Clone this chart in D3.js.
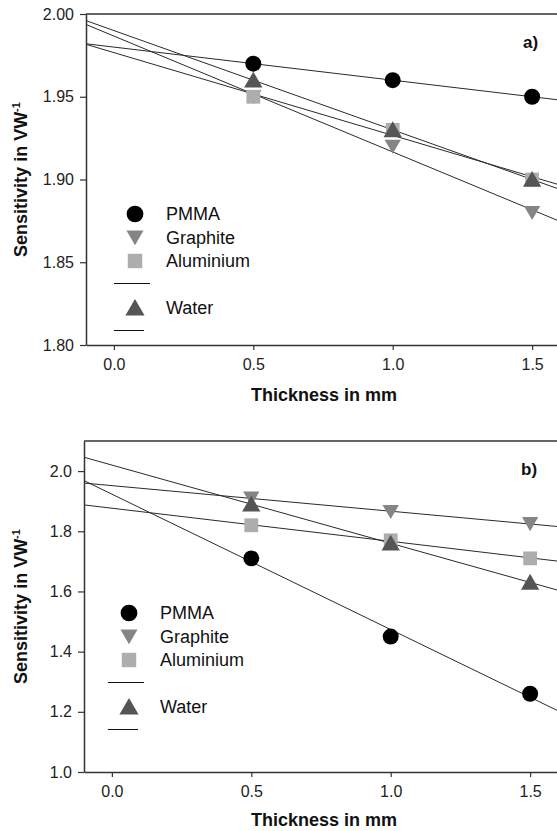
<!DOCTYPE html>
<html><head><meta charset="utf-8">
<script src="https://cdn.jsdelivr.net/npm/d3@7"></script>
<style>
html,body{margin:0;padding:0;background:#fff;}
svg{display:block;font-family:"Liberation Sans",Arial,sans-serif;}
</style></head>
<body>
<svg id="chart" width="557" height="831"></svg>
<script>
// ---- Data ----
const thickness = [0.5, 1.0, 1.5];
const seriesNames = ["PMMA", "Graphite", "Aluminium", "Water"];

// Panel a
const aPMMA      = [1.97, 1.96, 1.95];
const aGraphite  = [1.95, 1.92, 1.88];
const aAluminium = [1.95, 1.93, 1.90];
const aWater     = [1.96, 1.93, 1.90];
const aYTicks = [1.80, 1.85, 1.90, 1.95, 2.00];

// Panel b
const bPMMA      = [1.71, 1.45, 1.26];
const bGraphite  = [1.91, 1.865, 1.825];
const bAluminium = [1.82, 1.77, 1.71];
const bWater     = [1.89, 1.76, 1.63];
const bYTicks = [1.0, 1.2, 1.4, 1.6, 1.8, 2.0];

const xTicks = [0.0, 0.5, 1.0, 1.5];

const svg = d3.select("#chart");
const FONT = "Liberation Sans, Arial, sans-serif";

const styles = {
  PMMA:      {shape: d3.symbolCircle,   fill: "#000000", size: 200, rot: 0},
  Graphite:  {shape: d3.symbolTriangle, fill: "#858585", size: 115, rot: 180},
  Aluminium: {shape: d3.symbolSquare,   fill: "#adadad", size: 190, rot: 0},
  Water:     {shape: d3.symbolTriangle, fill: "#555555", size: 145, rot: 0}
};

function linfit(xs, ys) {
  const mx = d3.mean(xs), my = d3.mean(ys);
  let num = 0, den = 0;
  xs.forEach((x, i) => { num += (x - mx) * (ys[i] - my); den += (x - mx) * (x - mx); });
  const m = num / den;
  return {m: m, b: my - m * mx};
}

function triOffset(st) {
  if (st.shape !== d3.symbolTriangle) return 0;
  return (st.rot === 180 ? -1 : 1) * 2;
}

function drawPanel(opt) {
  const g = svg.append("g");
  const x = d3.scaleLinear().domain([-0.1, 1.6]).range([opt.left, opt.left + 474]);
  const y = d3.scaleLinear().domain(opt.yDomain).range([opt.bottom, opt.top]);

  const clipId = "clip" + opt.label;
  svg.append("clipPath").attr("id", clipId).append("rect")
    .attr("x", opt.left).attr("y", opt.top).attr("width", 474).attr("height", opt.bottom - opt.top);

  // regression lines
  const lg = g.append("g").attr("clip-path", "url(#" + clipId + ")");
  opt.series.forEach(s => {
    const f = linfit(thickness, s.values);
    const x0 = -0.1, x1 = 1.6;
    lg.append("line")
      .attr("x1", x(x0)).attr("y1", y(f.m * x0 + f.b))
      .attr("x2", x(x1)).attr("y2", y(f.m * x1 + f.b))
      .attr("stroke", "#2a2a2a").attr("stroke-width", 1);
  });

  // markers
  opt.series.forEach(s => {
    const st = styles[s.name];
    const sym = d3.symbol().type(st.shape).size(st.size);
    lg.selectAll(null).data(s.values).enter().append("path")
      .attr("d", sym)
      .attr("transform", (d, i) => "translate(" + x(thickness[i]) + "," + (y(d) + triOffset(st)) + ") rotate(" + st.rot + ")")
      .attr("fill", st.fill);
  });

  // axes
  const ax = g.append("g").attr("transform", "translate(0," + opt.bottom + ")")
    .call(d3.axisBottom(x).tickValues(xTicks).tickFormat(d3.format(".1f")).tickSize(5).tickSizeOuter(0));
  ax.select(".domain").attr("stroke", "#333").attr("stroke-width", 1.5);
  ax.selectAll(".tick line").attr("stroke", "#333").attr("stroke-width", 1.2);
  ax.selectAll(".tick text").attr("font-size", 16).attr("fill", "#222").attr("y", 14).attr("dy", "0.71em")
    .attr("font-family", FONT);

  const ay = g.append("g").attr("transform", "translate(" + opt.left + ",0)")
    .call(d3.axisLeft(y).tickValues(opt.yTicks).tickFormat(d3.format(opt.yFmt)).tickSize(6).tickSizeOuter(0));
  ay.select(".domain").attr("stroke", "#333").attr("stroke-width", 1.5);
  ay.selectAll(".tick line").attr("stroke", "#333").attr("stroke-width", 1.2);
  ay.selectAll(".tick text").attr("font-size", 16).attr("fill", "#222").attr("x", -12)
    .attr("font-family", FONT);

  // top frame
  g.append("line").attr("x1", opt.left).attr("x2", 557).attr("y1", opt.top).attr("y2", opt.top)
    .attr("stroke", "#333").attr("stroke-width", 1.5);

  // panel label
  g.append("text").attr("x", opt.left + 437).attr("y", opt.top + 34)
    .attr("font-size", 17).attr("font-weight", "bold").attr("fill", "#111").text(opt.label + ")");

  // axis titles
  g.append("text").attr("x", 324).attr("y", opt.xTitleY).attr("text-anchor", "middle")
    .attr("font-size", 18).attr("font-weight", "bold").attr("fill", "#111").text("Thickness in mm");
  const yt = g.append("text").attr("transform", "translate(" + 27 + "," + ((opt.top + opt.bottom) / 2) + ") rotate(-90)")
    .attr("text-anchor", "middle").attr("font-size", 18).attr("font-weight", "bold").attr("fill", "#111");
  yt.append("tspan").text("Sensitivity in VW");
  yt.append("tspan").attr("font-size", 11).attr("dy", -7).text("-1");

  // legend
  const lx = opt.legendX, ly = opt.legendY, step = 23.5;
  const leg = g.append("g");
  const legItems = [
    {name: "PMMA", row: 0}, {name: "Graphite", row: 1}, {name: "Aluminium", row: 2}, {name: "Water", row: 4}
  ];
  legItems.forEach(it => {
    const st = styles[it.name];
    const cy = ly + it.row * step;
    leg.append("path").attr("d", d3.symbol().type(st.shape).size(st.size * 1.1)())
      .attr("transform", "translate(" + lx + "," + (cy + triOffset(st)) + ") rotate(" + st.rot + ")")
      .attr("fill", st.fill);
    leg.append("text").attr("x", lx + 31).attr("y", cy).attr("dy", "0.35em")
      .attr("font-size", 18).attr("fill", "#111").text(it.name);
  });
  [{row: 3, w: 36}, {row: 5, w: 30}].forEach(l => {
    leg.append("line").attr("x1", lx - 21).attr("x2", lx - 21 + l.w)
      .attr("y1", ly + l.row * step - 1).attr("y2", ly + l.row * step - 1)
      .attr("stroke", "#111").attr("stroke-width", 1);
  });
}

drawPanel({
  label: "a", left: 86, top: 14, bottom: 345, yDomain: [1.80, 2.00], yTicks: aYTicks, yFmt: ".2f",
  xTitleY: 401, legendX: 135, legendY: 214,
  series: [
    {name: "PMMA", values: aPMMA},
    {name: "Graphite", values: aGraphite},
    {name: "Aluminium", values: aAluminium},
    {name: "Water", values: aWater}
  ]
});

drawPanel({
  label: "b", left: 84, top: 441, bottom: 772, yDomain: [1.0, 2.1], yTicks: bYTicks, yFmt: ".1f",
  xTitleY: 826, legendX: 129, legendY: 613,
  series: [
    {name: "PMMA", values: bPMMA},
    {name: "Graphite", values: bGraphite},
    {name: "Aluminium", values: bAluminium},
    {name: "Water", values: bWater}
  ]
});
</script>
</body></html>
